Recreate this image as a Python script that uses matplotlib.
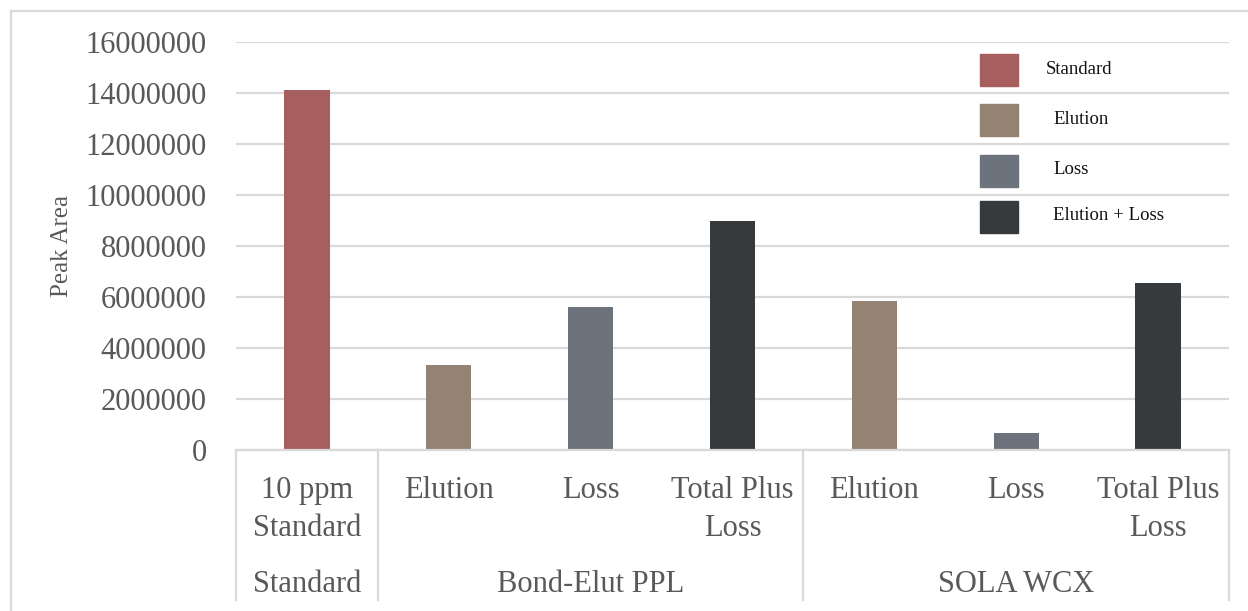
import matplotlib
matplotlib.use("Agg")
import matplotlib.pyplot as plt
from matplotlib.patches import Rectangle
from matplotlib.lines import Line2D
import matplotlib.transforms as mtransforms

# ---- data ----
sub_labels = ["10 ppm\nStandard", "Elution", "Loss", "Total Plus\nLoss",
              "Elution", "Loss", "Total Plus\nLoss"]
groups = ["Standard", "Bond-Elut PPL", "SOLA WCX"]
group_sizes = [1, 3, 3]
series_of_bar = ["Standard", "Elution", "Loss", "Elution + Loss",
                 "Elution", "Loss", "Elution + Loss"]
peak_area = [14120000, 3330000, 5610000, 8980000, 5840000, 670000, 6550000]
series_names = ["Standard", "Elution", "Loss", "Elution + Loss"]
series_colors = ["#A65E5E", "#948273", "#6C737C", "#363A3D"]
y_ticks = [0, 2000000, 4000000, 6000000, 8000000, 10000000, 12000000,
           14000000, 16000000]

color_map = dict(zip(series_names, series_colors))
TEXT = "#595959"
GRID = "#D9D9D9"
W, H = 1248, 611

plt.rcParams["font.family"] = ["Liberation Serif", "DejaVu Serif"]

fig = plt.figure(figsize=(W / 100, H / 100), dpi=100)
fig.patch.set_facecolor("white")


def fx(px):
    return px / W


def fy(py):
    return 1 - py / H


ax = fig.add_axes([fx(236), fy(450), fx(1229) - fx(236), fy(42) - fy(450)])

x = list(range(len(peak_area)))
ax.bar(x, peak_area, width=0.32,
       color=[color_map[s] for s in series_of_bar], zorder=3)

ax.set_xlim(-0.5, len(peak_area) - 0.5)
ax.set_ylim(0, 16000000)
ax.set_yticks(y_ticks)
ax.set_yticklabels([str(v) for v in y_ticks])
ax.tick_params(axis="y", length=0, pad=21, labelsize=22, labelcolor=TEXT)
ax.tick_params(axis="x", length=0, labelbottom=False)
ax.grid(axis="y", color=GRID, linewidth=1.6, zorder=0)
for side in ["top", "right", "left"]:
    ax.spines[side].set_visible(False)
ax.spines["bottom"].set_color(GRID)
ax.spines["bottom"].set_linewidth(1.6)
ax.spines["bottom"].set_zorder(4)

# multi-level category axis
trans = mtransforms.blended_transform_factory(ax.transData, fig.transFigure)
for xi, lab in zip(x, sub_labels):
    ax.text(xi, fy(476), lab, transform=trans, ha="center", va="top",
            fontsize=22, color=TEXT, linespacing=1.42)

edges = [-0.5]
for n in group_sizes:
    edges.append(edges[-1] + n)
for e in edges:
    fig.add_artist(Line2D([e, e], [fy(450), fy(600)], transform=trans,
                          color=GRID, linewidth=1.6))
for g, a, b in zip(groups, edges[:-1], edges[1:]):
    ax.text((a + b) / 2, fy(584), g, transform=trans, ha="center",
            va="center", fontsize=22, color=TEXT)

fig.text(fx(62), fy(246), "Peak Area", rotation=90, ha="center",
         va="center", fontsize=18, color=TEXT)

# chart frame
fig.add_artist(Line2D([fx(11), fx(11)], [fy(11), 0], color=GRID,
                      linewidth=1.6))
fig.add_artist(Line2D([fx(11), 1], [fy(11), fy(11)], color=GRID,
                      linewidth=1.6))

# legend
leg_centers = [70, 120, 171, 217]
leg_text_x = [1046, 1053, 1053, 1053]
for name, c, yc, tx in zip(series_names, series_colors, leg_centers,
                           leg_text_x):
    fig.add_artist(Rectangle((fx(980), fy(yc + 16)), fx(38), 32 / H,
                             transform=fig.transFigure, color=c))
    fig.text(fx(tx), fy(yc - 1), name, ha="left", va="center",
             fontsize=13.5, color="#111111")

fig.savefig("out.png", dpi=100, facecolor="white")
